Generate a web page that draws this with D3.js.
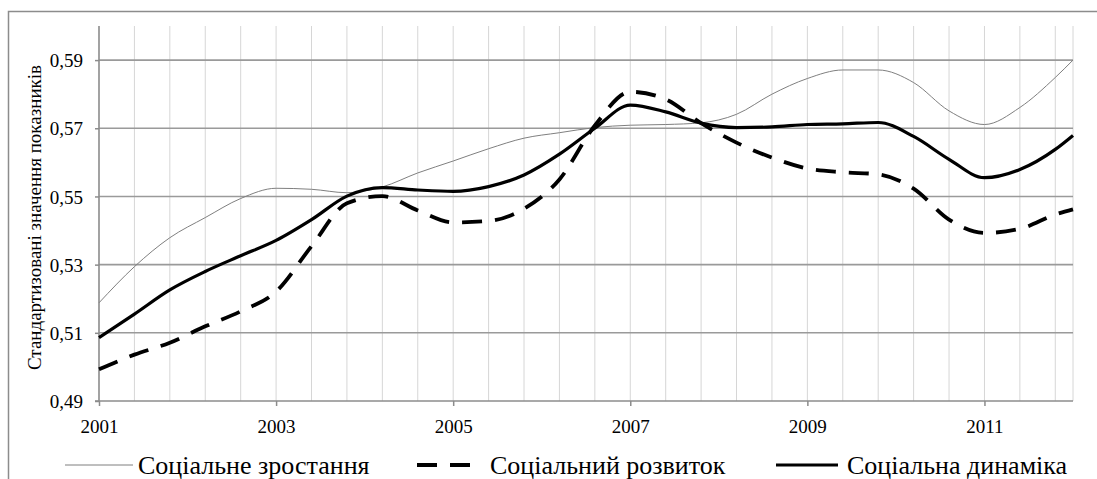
<!DOCTYPE html>
<html><head><meta charset="utf-8">
<script src="https://cdn.jsdelivr.net/npm/d3@7"></script>
</head><body style="margin:0">
<svg id="fig" width="1097" height="479"></svg>
<script>
// Time points (years, step 0.4 between gridlines, plus end 2012)
const periods = [2001,2001.4,2001.8,2002.2,2002.6,2003,2003.4,2003.8,2004.2,2004.6,2005,2005.4,2005.8,2006.2,2006.6,2007,2007.4,2007.8,2008.2,2008.6,2009,2009.4,2009.8,2010.2,2010.6,2011,2011.4,2011.8,2012];
const growth = [0.5188,0.5294,0.5379,0.5438,0.5494,0.5524,0.5521,0.5511,0.5528,0.5569,0.5604,0.5640,0.5671,0.5687,0.5702,0.5709,0.5711,0.5716,0.5741,0.5800,0.5846,0.5871,0.5871,0.5834,0.5751,0.5711,0.5761,0.5849,0.5900];
const development = [0.4993,0.5036,0.5071,0.5119,0.5163,0.5221,0.5354,0.5480,0.5501,0.5459,0.5424,0.5428,0.5464,0.5550,0.5708,0.5807,0.5785,0.5715,0.5658,0.5614,0.5582,0.5571,0.5565,0.5523,0.5432,0.5393,0.5405,0.5447,0.5462];
const dynamics = [0.5086,0.5155,0.5226,0.5280,0.5326,0.5371,0.5432,0.5501,0.5526,0.5519,0.5515,0.5529,0.5563,0.5624,0.5700,0.5768,0.5748,0.5715,0.5702,0.5704,0.5711,0.5713,0.5717,0.5676,0.5609,0.5555,0.5579,0.5638,0.5679];
const yTicks = [0.49,0.51,0.53,0.55,0.57,0.59];
const xTickLabels = [2001,2003,2005,2007,2009,2011];
const seriesNames = ["Соціальне зростання","Соціальний розвиток","Соціальна динаміка"];

const FONT = "Liberation Serif";
const svg = d3.select("#fig").attr("font-family",FONT);
const L=99, R=1073, T=26, B=401;
const x = d3.scaleLinear().domain([2001,2012]).range([L,R]);
const y = d3.scaleLinear().domain([0.49,0.6]).range([B,T]);

// outer frame
svg.append("rect").attr("x",8.5).attr("y",11.5).attr("width",1100).attr("height",480)
  .attr("fill","none").attr("stroke","#8c8c8c").attr("stroke-width",1.5);

// vertical minor gridlines
const vgrid = d3.range(1,28).map(k=>2001+0.4*k);
svg.append("g").selectAll("line").data(vgrid.concat([2012])).join("line")
  .attr("x1",d=>x(d)).attr("x2",d=>x(d)).attr("y1",T).attr("y2",B)
  .attr("stroke","#d6d6d6").attr("stroke-width",1);

// horizontal gridlines
svg.append("g").selectAll("line").data(yTicks.slice(1)).join("line")
  .attr("x1",L).attr("x2",R).attr("y1",d=>y(d)).attr("y2",d=>y(d))
  .attr("stroke","#9a9a9a").attr("stroke-width",1.6);

// axes
const yAxis = d3.axisLeft(y).tickValues(yTicks).tickSize(4).tickPadding(12)
  .tickFormat(d=>d3.format(".2f")(d).replace(".",","));
const gy = svg.append("g").attr("transform",`translate(${L},0)`).call(yAxis);
gy.select(".domain").attr("d",`M-4,${B}H0V${T}`).attr("stroke","#8c8c8c").attr("stroke-width",1.6);
const xAxis = d3.axisBottom(x).tickValues(xTickLabels).tickSize(5).tickPadding(14).tickFormat(d3.format("d"));
const gx = svg.append("g").attr("transform",`translate(0,${B})`).call(xAxis);
gx.select(".domain").attr("d",`M${L},0H${R}`).attr("stroke","#8c8c8c").attr("stroke-width",1.6);
[gx,gy].forEach(g=>{
  g.attr("font-family",FONT).attr("font-size",19);
  g.selectAll(".tick line").attr("stroke","#8c8c8c").attr("stroke-width",1.5);
  g.selectAll("text").attr("font-family",FONT).attr("font-size",19).attr("fill","#000");
});
gy.selectAll(".tick text").attr("dy","0.35em");

// y title
svg.append("text").attr("transform",`translate(41,${(T+B)/2+4}) rotate(-90)`)
  .attr("text-anchor","middle").attr("font-family",FONT).attr("font-size",19)
  .text("Стандартизовані значення показників");

// lines
const styles = [
  {data:growth, stroke:"#7f7f7f", width:1, dash:null},
  {data:development, stroke:"#000", width:3.8, dash:"20,13"},
  {data:dynamics, stroke:"#000", width:3.2, dash:null}
];
const line = d3.line().x(d=>x(d[0])).y(d=>y(d[1])).curve(d3.curveMonotoneX);
styles.forEach(s=>{
  svg.append("path").datum(periods.map((p,i)=>[p,s.data[i]]))
    .attr("d",line).attr("fill","none").attr("stroke",s.stroke)
    .attr("stroke-width",s.width).attr("stroke-dasharray",s.dash);
});

// legend
const legend = [
  {x1:65,x2:133,tx:138},
  {x1:417,x2:477,tx:490},
  {x1:776,x2:838,tx:847}
];
legend.forEach((l,i)=>{
  const s = styles[i];
  svg.append("line").attr("x1",l.x1).attr("x2",l.x2).attr("y1",465).attr("y2",465)
    .attr("stroke",s.stroke).attr("stroke-width",s.width).attr("stroke-dasharray",s.dash);
  svg.append("text").attr("x",l.tx).attr("y",474).attr("font-family",FONT).attr("font-size",26)
    .text(seriesNames[i]);
});
</script>
</body></html>
